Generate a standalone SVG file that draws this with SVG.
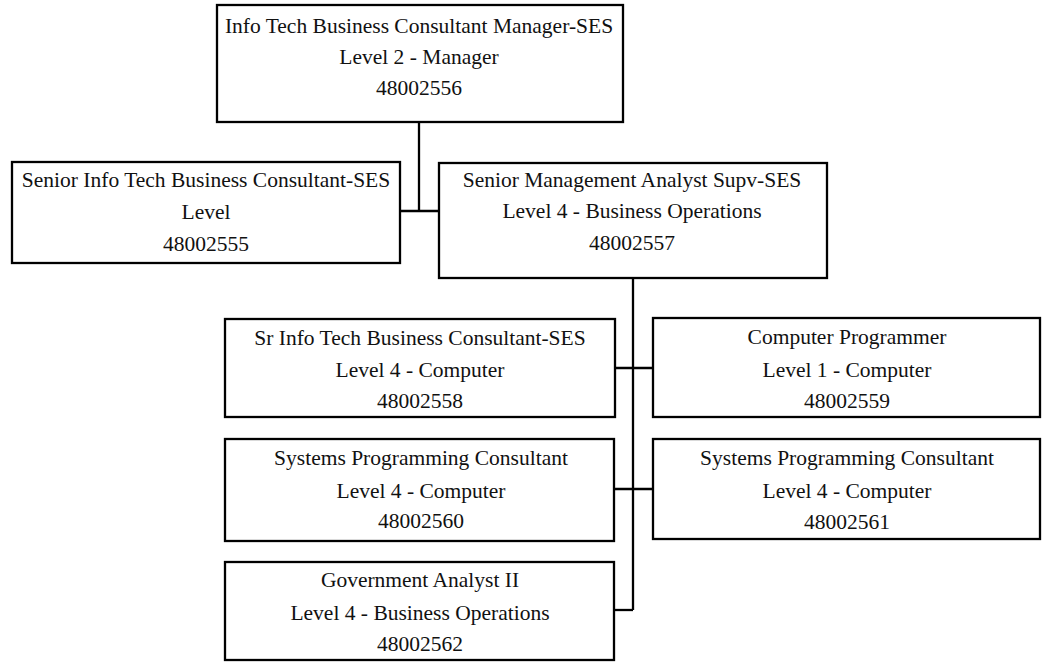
<svg xmlns="http://www.w3.org/2000/svg" width="1042" height="664" viewBox="0 0 1042 664">
<style>
.box{fill:#fff;stroke:#000;stroke-width:2.3}
.t{font-family:"Liberation Serif","Times New Roman",serif;font-size:21.5px;fill:#111;text-anchor:middle}
.c{fill:none;stroke:#000;stroke-width:2.3}
</style>
<rect width="1042" height="664" fill="#fff"/>
<g id="connectors">
<line class="c" x1="419" y1="122" x2="419" y2="211"/>
<line class="c" x1="400" y1="211" x2="439" y2="211"/>
<line class="c" x1="633" y1="278" x2="633" y2="610"/>
<line class="c" x1="615" y1="368" x2="653" y2="368"/>
<line class="c" x1="614" y1="489" x2="653" y2="489"/>
<line class="c" x1="614" y1="610" x2="633" y2="610"/>
</g>
<g id="n48002556">
<rect class="box" x="217" y="5" width="406" height="117"/>
<text class="t" x="419" y="33">Info Tech Business Consultant Manager-SES</text>
<text class="t" x="419" y="64">Level 2 - Manager</text>
<text class="t" x="419" y="95">48002556</text>
</g>
<g id="n48002555">
<rect class="box" x="12" y="162" width="388" height="101"/>
<text class="t" x="206" y="187">Senior Info Tech Business Consultant-SES</text>
<text class="t" x="206" y="219">Level</text>
<text class="t" x="206" y="251">48002555</text>
</g>
<g id="n48002557">
<rect class="box" x="439" y="163" width="388" height="115"/>
<text class="t" x="632" y="187">Senior Management Analyst Supv-SES</text>
<text class="t" x="632" y="218">Level 4 - Business Operations</text>
<text class="t" x="632" y="250">48002557</text>
</g>
<g id="n48002558">
<rect class="box" x="225" y="319" width="390" height="98"/>
<text class="t" x="420" y="345">Sr Info Tech Business Consultant-SES</text>
<text class="t" x="420" y="377">Level 4 - Computer</text>
<text class="t" x="420" y="408">48002558</text>
</g>
<g id="n48002559">
<rect class="box" x="653" y="318" width="387" height="99"/>
<text class="t" x="847" y="344">Computer Programmer</text>
<text class="t" x="847" y="377">Level 1 - Computer</text>
<text class="t" x="847" y="408">48002559</text>
</g>
<g id="n48002560">
<rect class="box" x="225" y="439" width="389" height="102"/>
<text class="t" x="421" y="465">Systems Programming Consultant</text>
<text class="t" x="421" y="498">Level 4 - Computer</text>
<text class="t" x="421" y="528">48002560</text>
</g>
<g id="n48002561">
<rect class="box" x="653" y="439" width="387" height="100"/>
<text class="t" x="847" y="465">Systems Programming Consultant</text>
<text class="t" x="847" y="498">Level 4 - Computer</text>
<text class="t" x="847" y="529">48002561</text>
</g>
<g id="n48002562">
<rect class="box" x="225" y="562" width="389" height="98"/>
<text class="t" x="420" y="587">Government Analyst II</text>
<text class="t" x="420" y="620">Level 4 - Business Operations</text>
<text class="t" x="420" y="651">48002562</text>
</g>
</svg>
